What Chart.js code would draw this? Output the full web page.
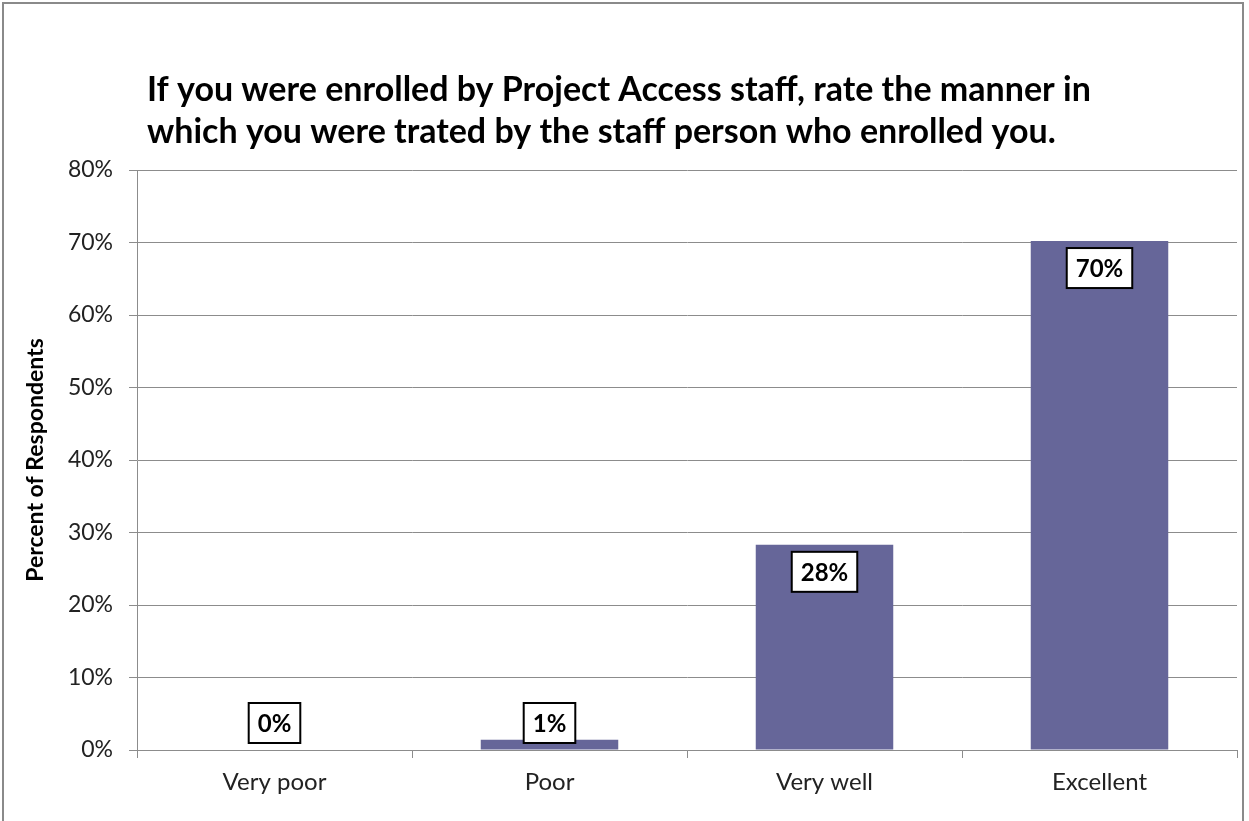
<!DOCTYPE html>
<html>
<head>
<meta charset="utf-8">
<script src="https://cdn.jsdelivr.net/npm/chart.js@4.4.0/dist/chart.umd.min.js"></script>
<style>
  html, body { margin: 0; padding: 0; background: #fff; overflow: hidden; }
  #frame { position: absolute; left: 2px; top: 2px; width: 1242px; height: 840px; border: 2px solid #8a8a8a; box-sizing: border-box; }
  #wrap { position: absolute; left: 0; top: 0; width: 1249px; height: 821px; }
</style>
</head>
<body>
<div id="frame"></div>
<div id="wrap"><canvas id="canvas" width="1249" height="821"></canvas></div>
<script>
// data
var categories = ['Very poor', 'Poor', 'Very well', 'Excellent'];
var percents = [0, 1.4, 28.3, 70.2];
var pointLabels = ['0%', '1%', '28%', '70%'];
var titleLines = [
    'If you were enrolled by Project Access staff, rate the manner in',
    'which you were trated by the staff person who enrolled you.'
];

var FONT = 'Lato, "Open Sans", sans-serif';

// title drawn at left, like the excel one
var titlePlugin = {
    id: 'leftTitle',
    afterDraw: function(chart){
        var ctx = chart.ctx;
        ctx.save();
        ctx.fillStyle = '#000';
        ctx.font = 'bold 34px ' + FONT;
        ctx.textAlign = 'left';
        ctx.textBaseline = 'alphabetic';
        ctx.fillText(titleLines[0], 147, 101);
        ctx.fillText(titleLines[1], 147, 143);
        ctx.restore();
    }
};

// boxed value labels, inside end of each bar
var boxLabels = {
    id: 'boxLabels',
    afterDatasetsDraw: function(chart){
        var ctx = chart.ctx;
        var meta = chart.getDatasetMeta(0);
        var base = chart.scales.y.getPixelForValue(0);
        ctx.save();
        ctx.font = 'bold 24px ' + FONT;
        ctx.textAlign = 'center';
        ctx.textBaseline = 'middle';
        meta.data.forEach(function(bar, i){
            var txt = pointLabels[i];
            var w = ctx.measureText(txt).width + 18;
            var h = 40;
            var top = bar.y + 7;
            if (top + h > base - 7) top = base - 7 - h;
            ctx.fillStyle = '#fff';
            ctx.fillRect(bar.x - w / 2, top, w, h);
            ctx.lineWidth = 2;
            ctx.strokeStyle = '#000';
            ctx.strokeRect(bar.x - w / 2, top, w, h);
            ctx.fillStyle = '#000';
            ctx.fillText(txt, bar.x, top + h / 2 + 1);
        });
        ctx.restore();
    }
};

const ctx = document.getElementById('canvas').getContext('2d');
const myChart = new Chart(ctx, {
    type: 'bar',
    data: {
        labels: categories,
        datasets: [{
            label: 'Percent of Respondents',
            data: percents,
            backgroundColor: '#666699',
            borderWidth: 0,
            categoryPercentage: 1.0,
            barPercentage: 0.5
        }]
    },
    options: {
        responsive: false,
        animation: false,
        events: [],
        layout: { padding: { top: 170, right: 12, bottom: 0, left: 0 } },
        plugins: {
            legend: { display: false },
            tooltip: { enabled: false },
            title: { display: false }
        },
        scales: {
            x: {
                afterFit: function(scale){ scale.height = 71; },
                grid: {
                    display: true,
                    drawOnChartArea: false,
                    offset: true,
                    tickLength: 8,
                    color: '#8c8c8c'
                },
                border: { display: true, color: '#8c8c8c', width: 1 },
                ticks: {
                    color: '#222',
                    padding: 10,
                    font: { family: FONT, size: 24 }
                }
            },
            y: {
                min: 0,
                max: 80,
                afterFit: function(scale){ scale.width = 137; },
                grid: { color: '#8c8c8c', tickLength: 8 },
                border: { display: true, color: '#8c8c8c', width: 1 },
                ticks: {
                    stepSize: 10,
                    color: '#222',
                    padding: 16,
                    font: { family: FONT, size: 23 },
                    callback: function(v){ return v + '%'; }
                },
                title: {
                    display: true,
                    text: 'Percent of Respondents',
                    color: '#000',
                    font: { family: FONT, size: 23, weight: 'bold' },
                    padding: { top: 22, bottom: 0 }
                }
            }
        }
    },
    plugins: [titlePlugin, boxLabels]
});
</script>
</body>
</html>
